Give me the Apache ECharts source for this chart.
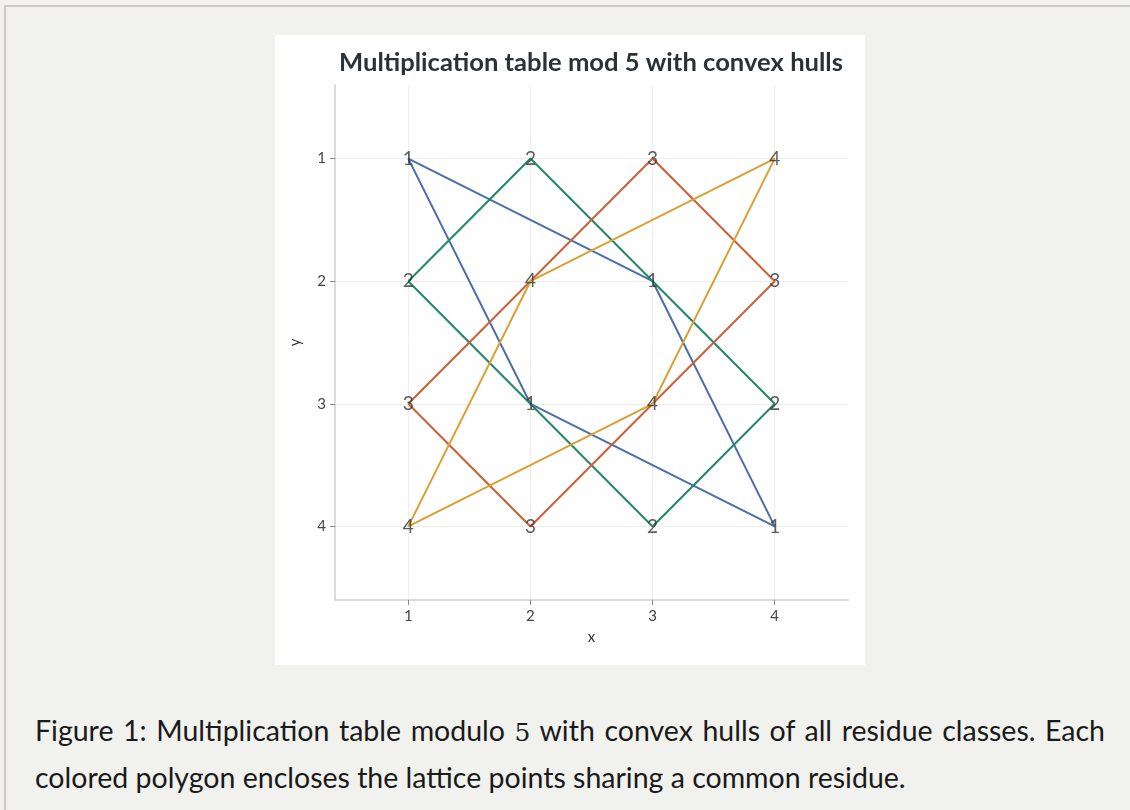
<!DOCTYPE html>
<html>
<head>
<meta charset="utf-8">
<script src="https://cdn.jsdelivr.net/npm/echarts@6/dist/echarts.min.js"></script>
<style>
  html, body { margin: 0; padding: 0; background: #f1f1ed; }
  #page {
    position: absolute; left: 4px; top: 5px; width: 1126px; height: 805px;
    border-top: 2px solid #cfcac6; border-left: 2px solid #cfcac6;
    background: #f1f1ed;
  }
  #chart {
    position: absolute; left: 269px; top: 28px; width: 590px; height: 630px;
    background: #fff;
  }
  #caption {
    position: absolute; left: 29px; top: 701px; width: 1070px; text-align: justify;
    font-family: Lato, "Noto Sans", sans-serif; font-size: 28.5px; line-height: 44px;
    color: #1a1a1a;
  }
  #caption .m { font-family: "DejaVu Serif", "Liberation Serif", serif; font-size: 25px; }
</style>
</head>
<body>
<div id="page">
  <div id="chart"></div>
  <div id="caption">Figure 1: Multiplication table modulo <span class="m">5</span> with convex hulls of all residue classes. Each colored polygon encloses the lattice points sharing a common residue.</div>
</div>
<script>
// lattice 1..4 x 1..4, residues x*y mod 5
var xs = [1, 2, 3, 4];
var ys = [1, 2, 3, 4];
var residues = [
  // y=1        y=2        y=3        y=4
  [1, 2, 3, 4], // x=1
  [2, 4, 1, 3], // x=2
  [3, 1, 4, 2], // x=3
  [4, 3, 2, 1]  // x=4
];

// convex hull vertices for each residue class (closed)
var hull1 = [[1, 1], [3, 2], [4, 4], [2, 3], [1, 1]];
var hull2 = [[1, 2], [2, 1], [4, 3], [3, 4], [1, 2]];
var hull3 = [[1, 3], [3, 1], [4, 2], [2, 4], [1, 3]];
var hull4 = [[1, 4], [2, 2], [4, 1], [3, 3], [1, 4]];
var hullNames = ['1', '2', '3', '4'];
var hullColors = ['#4a6ea9', '#23876a', '#cb6038', '#d9a035'];

var tickValues = [1, 2, 3, 4];

var pointData = [];
xs.forEach(function (x, i) {
  ys.forEach(function (y, j) {
    pointData.push([x, y, residues[i][j]]);
  });
});

var axisCommon = {
  min: 0.4,
  max: 4.6,
  nameTextStyle: { color: '#333', fontSize: 15, fontFamily: 'Lato' },
  axisLine: { show: true, lineStyle: { color: '#cfcfcf', width: 1.5 } },
  axisTick: { show: true, length: 5, customValues: tickValues, lineStyle: { color: '#888' } },
  axisLabel: { customValues: tickValues, color: '#444', fontSize: 15, fontFamily: 'Lato', margin: 9 },
  splitLine: { show: true, lineStyle: { color: '#eeeeee', width: 1 } }
};

var series = [hull1, hull2, hull3, hull4].map(function (h, k) {
  return {
    name: hullNames[k],
    type: 'line',
    data: h,
    symbol: 'none',
    silent: true,
    lineStyle: { color: hullColors[k], width: 2 },
    z: 2
  };
});
series.push({
  type: 'scatter',
  data: pointData,
  symbolSize: 1,
  itemStyle: { color: 'rgba(0,0,0,0)' },
  label: {
    show: true,
    position: 'inside',
    formatter: function (p) { return p.value[2]; },
    color: '#333',
    fontSize: 19,
    fontFamily: 'Lato'
  },
  z: 5
});

var chart = echarts.init(document.getElementById('chart'));
chart.setOption({
  animation: false,
  backgroundColor: '#fff',
  title: {
    text: 'Multiplication table mod 5 with convex hulls',
    left: 311,
    textAlign: 'center',
    top: 10,
    textStyle: { fontFamily: 'Lato', fontWeight: 'bold', fontSize: 25.6, color: '#2b3236' }
  },
  grid: { left: 60, right: 17, top: 50, bottom: 65 },
  xAxis: Object.assign({}, axisCommon, {
    type: 'value',
    name: 'x',
    nameLocation: 'middle',
    nameGap: 30
  }),
  yAxis: Object.assign({}, axisCommon, {
    type: 'value',
    inverse: true,
    name: 'y',
    nameLocation: 'middle',
    nameGap: 32
  }),
  series: series
});
</script>
</body>
</html>
